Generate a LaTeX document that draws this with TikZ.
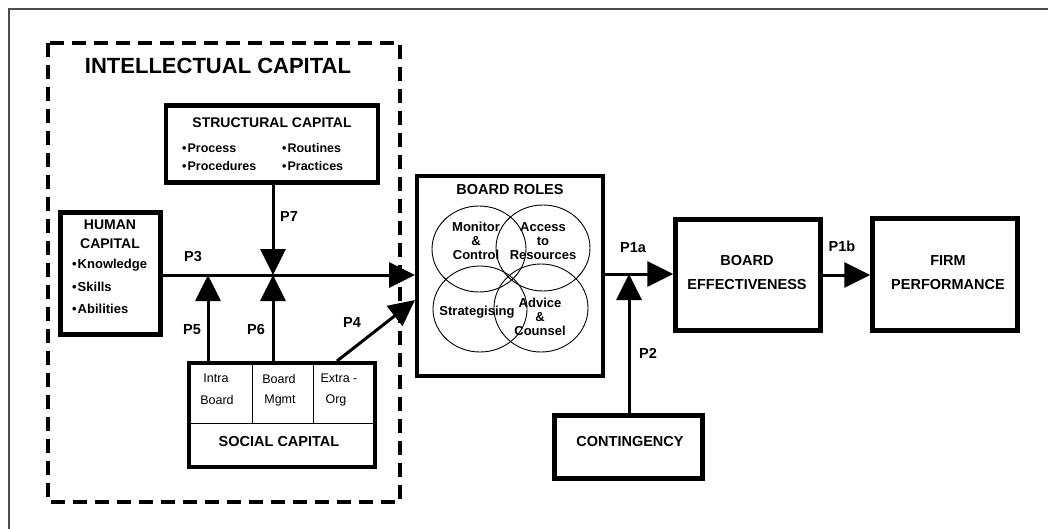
\documentclass[tikz,border=0pt]{standalone}
\usepackage{fontspec}
\setmainfont{Liberation Sans}
\usetikzlibrary{arrows.meta}
\tikzset{
  box/.style={draw, line width=4.5pt, inner sep=0pt},
  thinbox/.style={draw, line width=4pt, inner sep=0pt},
  arr/.style={line width=3pt, -{Triangle[length=26pt,width=25pt]}},
  lab/.style={font=\fontsize{14.5}{17}\selectfont\bfseries, inner sep=0pt},
  head/.style={font=\fontsize{14.5}{24}\selectfont\bfseries, inner sep=0pt, align=center},
  item/.style={font=\fontsize{12.5}{15}\selectfont\bfseries, inner sep=0pt, anchor=west},
  hitem/.style={font=\fontsize{13}{15}\selectfont\bfseries, inner sep=0pt, anchor=west},
  cell/.style={font=\fontsize{12.5}{15}\selectfont, inner sep=0pt},
  role/.style={font=\fontsize{13}{14}\selectfont\bfseries, inner sep=0pt, align=center},
  ring/.style={line width=0.9pt}
}
\begin{document}
\begin{tikzpicture}[x=1pt,y=-1pt]
\useasboundingbox (0,0) rectangle (1048,529);
\clip (0,0) rectangle (1048,529);

% page frame
\draw[black!70, line width=1.2pt] (9,560) -- (9,9) -- (1080,9);

% intellectual capital envelope
\draw[line width=4pt, dash pattern=on 14pt off 8pt] (48,43) rectangle (400,502);
\node[font=\fontsize{22}{26}\selectfont\bfseries, inner sep=0pt] (ictitle) at (218,66) {INTELLECTUAL CAPITAL};

% structural capital
\node[box, minimum width=212pt, minimum height=77pt] (struct) at (272,144) {};
\node[font=\fontsize{14}{17}\selectfont\bfseries, inner sep=0pt] (structt) at (272,123) {STRUCTURAL CAPITAL};
\node[item] (s1) at (182,148) {\textbullet\hspace{1pt}Process};
\node[item] (s2) at (182,166) {\textbullet\hspace{1pt}Procedures};
\node[item] (s3) at (282,148) {\textbullet\hspace{1pt}Routines};
\node[item] (s4) at (282,166) {\textbullet\hspace{1pt}Practices};

% human capital
\node[box, minimum width=100pt, minimum height=122pt] (human) at (110.5,273.5) {};
\node[font=\fontsize{14}{19}\selectfont\bfseries, inner sep=0pt, align=center] (humant) at (110,234) {HUMAN\\CAPITAL};
\node[hitem] (h1) at (72,265) {\textbullet\hspace{1pt}Knowledge};
\node[hitem] (h2) at (72,287) {\textbullet\hspace{1pt}Skills};
\node[hitem] (h3) at (72,309) {\textbullet\hspace{1pt}Abilities};

% social capital
\node[thinbox, minimum width=186pt, minimum height=104pt] (social) at (282,415) {};
\coordinate (divy) at (0,423);
\coordinate (d1) at (252,0);
\coordinate (d2) at (313,0);
\draw[line width=1pt] (social.west |- divy) -- (social.east |- divy);
\draw[line width=1pt] (d1 |- divy) -- (d1 |- social.north);
\draw[line width=1pt] (d2 |- divy) -- (d2 |- social.north);
\node[cell] (c1a) at (216,378) {Intra};
\node[cell] (c1b) at (217,400) {Board};
\node[cell] (c2a) at (279,379) {Board};
\node[cell] (c2b) at (280,400) {Mgmt};
\node[cell] (c3a) at (339,378) {Extra -};
\node[cell] (c3b) at (336,400) {Org};
\node[lab] (socialt) at (279,442) {SOCIAL CAPITAL};

% board roles
\node[thinbox, minimum width=186pt, minimum height=200pt] (roles) at (510,276) {};
\node[lab] (rolest) at (510,190) {BOARD ROLES};
\draw[ring] (479,249) ellipse [x radius=47pt, y radius=43pt];
\draw[ring] (543,248) ellipse [x radius=47pt, y radius=43pt];
\draw[ring] (480,309) ellipse [x radius=47pt, y radius=43pt];
\draw[ring] (541,308) ellipse [x radius=47pt, y radius=44pt];
\node[role] (mon) at (476,241) {Monitor\\\&\\Control};
\node[role] (acc) at (543,241) {Access\\to\\Resources};
\node[role] (strat) at (477,312) {Strategising};
\node[role] (adv) at (540,317) {Advice\\\&\\Counsel};

% outcomes
\node[box, minimum width=145pt, minimum height=111pt] (eff) at (748,275) {};
\node[head] (efft) at (747,273) {BOARD\\EFFECTIVENESS};
\node[box, minimum width=145pt, minimum height=112pt] (firm) at (945,274.5) {};
\node[head] (firmt) at (948,272.5) {FIRM\\PERFORMANCE};
\node[box, minimum width=148pt, minimum height=63pt] (cont) at (628.5,447) {};
\node[lab] (contt) at (630,442) {CONTINGENCY};

% connectors
\coordinate (j) at (273,275);
\coordinate (j5) at (208,275);
\coordinate (a4) at (337,0);
\coordinate (e4) at (0,300);
\coordinate (j2) at (629,274);
\draw[arr] (human.east |- j) -- (roles.west |- j);
\draw[arr] (struct.south -| j) -- (j);
\draw[arr] (social.north -| j5) -- (j5);
\draw[arr] (social.north -| j) -- (j);
\draw[arr] (a4 |- social.north) -- (roles.west |- e4);
\draw[arr] (roles.east |- j2) -- (eff.west |- j2);
\draw[arr] (cont.north -| j2) -- (j2);
\draw[arr] (eff.east) -- (eff.east -| firm.west);

% proposition labels
\node[lab] (p3) at (193,257) {P3};
\node[lab] (p7) at (289,217) {P7};
\node[lab] (p5) at (192,330) {P5};
\node[lab] (p6) at (256,330) {P6};
\node[lab] (p4) at (352,323) {P4};
\node[lab] (p1a) at (633,248) {P1a};
\node[lab] (p2) at (648,353) {P2};
\node[lab] (p1b) at (842,246) {P1b};
\end{tikzpicture}
\end{document}
